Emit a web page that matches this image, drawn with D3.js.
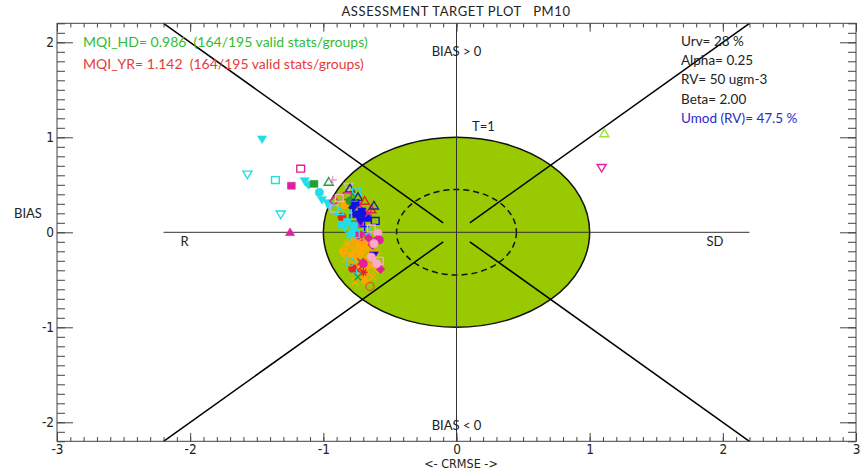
<!DOCTYPE html>
<html>
<head>
<meta charset="utf-8">
<script src="https://cdn.jsdelivr.net/npm/d3@7"></script>
<style>
  html, body { margin: 0; padding: 0; background: #fff; }
  svg { display: block; }
  .lbl { font-family: Lato, "Open Sans", sans-serif; fill: #222; white-space: pre; }
  .tick text { font-family: "Liberation Sans Narrow", "DejaVu Sans Condensed", sans-serif; font-size: 13.5px; fill: #222; }
</style>
</head>
<body>
<svg id="chart" width="865" height="472"></svg>
<script>
// ---- data ---------------------------------------------------------------
const titleText = "ASSESSMENT TARGET PLOT   PM10";
const xTickValues = [-3, -2, -1, 0, 1, 2, 3];
const yTickValues = [-2, -1, 0, 1, 2];
const mqiLines = [
  "MQI_HD= 0.986  (164/195 valid stats/groups)",
  "MQI_YR= 1.142  (164/195 valid stats/groups)"
];
const infoLines = ["Urv= 28 %", "Alpha= 0.25", "RV= 50 ugm-3", "Beta= 2.00", "Umod (RV)= 47.5 %"];
const targetRadius = 1;      // T=1 circle
const innerRadius = 0.45;    // dashed circle
// stations: [CRMSE, BIAS, marker group]
const stations = [
  [-1.46, 0.98, 0], [-1.57, 0.61, 1], [-1.36, 0.55, 2], [-1.17, 0.67, 3], [-1.24, 0.49, 4],
  [-1.14, 0.54, 0], [-1.11, 0.50, 5], [-1.07, 0.51, 6], [-1.03, 0.42, 7], [-1.01, 0.34, 0],
  [-1.32, 0.19, 1], [-1.25, 0.00, 8], [-0.96, 0.53, 9], [-0.93, 0.55, 10], [-0.81, 0.48, 11],
  [-0.80, 0.46, 12], [1.11, 1.04, 13], [1.09, 0.68, 14], [-0.95, 0.29, 7], [-0.97, 0.31, 0],
  [-0.75, 0.43, 2], [-0.92, 0.33, 15], [-0.92, 0.25, 16], [-0.84, 0.29, 17], [-0.80, 0.33, 18],
  [-0.74, 0.37, 12], [-0.69, 0.33, 21], [-0.73, 0.29, 20], [-0.64, 0.24, 21], [-0.71, 0.22, 19],
  [-0.86, 0.16, 22], [-0.77, 0.15, 23], [-0.67, 0.15, 19], [-0.61, 0.12, 23], [-0.82, 0.11, 37],
  [-0.73, 0.09, 36], [-0.84, 0.05, 0], [-0.67, 0.01, 2], [-0.73, -0.03, 36], [-0.59, -0.01, 30],
  [-0.60, -0.08, 31], [-0.78, 0.26, 24], [-0.76, 0.31, 19], [-0.70, 0.18, 24], [-0.72, 0.12, 25],
  [-0.79, 0.20, 33], [-0.81, 0.03, 32], [-0.77, 0.07, 7], [-0.69, 0.06, 40], [-0.75, 0.19, 19],
  [-0.88, 0.22, 41], [-0.86, 0.08, 37], [-0.64, 0.04, 38], [-0.79, -0.02, 7], [-0.70, -0.05, 42],
  [-0.66, 0.20, 20], [-0.62, 0.28, 12], [-0.82, 0.38, 3], [-0.88, 0.36, 38], [-0.78, 0.36, 9],
  [-0.78, -0.08, 27], [-0.74, -0.10, 26], [-0.70, -0.12, 27], [-0.66, -0.10, 28], [-0.80, -0.16, 26],
  [-0.76, -0.18, 27], [-0.72, -0.20, 39], [-0.68, -0.17, 27], [-0.64, -0.19, 26], [-0.79, -0.24, 28],
  [-0.75, -0.27, 27], [-0.71, -0.25, 26], [-0.67, -0.28, 27], [-0.63, -0.30, 44], [-0.77, -0.33, 26],
  [-0.73, -0.36, 27], [-0.69, -0.38, 28], [-0.65, -0.35, 27], [-0.61, -0.40, 26], [-0.75, -0.42, 27],
  [-0.71, -0.45, 26], [-0.67, -0.44, 27], [-0.63, -0.47, 26], [-0.76, -0.52, 26], [-0.69, -0.51, 27],
  [-0.82, -0.12, 27], [-0.83, -0.28, 26], [-0.60, -0.22, 27], [-0.85, -0.20, 17], [-0.73, -0.14, 17],
  [-0.74, -0.40, 29], [-0.70, -0.42, 43], [-0.72, -0.31, 29], [-0.78, -0.38, 22], [-0.62, -0.24, 25],
  [-0.80, -0.31, 32], [-0.70, -0.33, 36], [-0.75, -0.43, 33], [-0.74, -0.47, 34], [-0.65, -0.57, 35],
  [-0.57, -0.39, 31], [-0.60, -0.33, 30], [-0.63, -0.13, 15], [-0.58, -0.08, 36], [-0.62, -0.12, 30],
  [-0.64, -0.26, 30], [-0.66, -0.06, 31], [-0.58, -0.30, 38], [-0.80, -0.05, 33], [-0.76, -0.02, 2]
];

// ---- marker styles per group -----------------------------------------------
const C = {
  cyan: "#22dde8", magenta: "#e0209c", green: "#22a030", lav: "#ccb4d4", navy: "#26268e",
  lgreen: "#9be830", orange: "#ffa800", blue: "#1212e0", red: "#ea2222", pink: "#ffa8cc",
  pinkplus: "#e8a0d8"
};
const markerStyles = [
  ["td", C.cyan, true], ["td", C.cyan, false], ["sq", C.cyan, false], ["sq", C.magenta, false],
  ["sq", C.magenta, true], ["di", C.cyan, true], ["sq", C.green, true], ["ci", C.cyan, true],
  ["tu", C.magenta, true], ["tu", C.green, false], ["pl", C.pinkplus, false], ["td", C.lav, false],
  ["tu", C.navy, false], ["tu", C.lgreen, false], ["td", C.magenta, false], ["di", C.magenta, false],
  ["sq", C.lav, false], ["ci", C.orange, true], ["ci", C.green, true], ["sq", C.blue, true],
  ["x", C.magenta, false], ["tu", C.red, false], ["ci", C.red, true], ["sq", C.blue, false],
  ["di", C.blue, true], ["td", C.blue, true], ["x", C.orange, false], ["as", C.orange, false],
  ["sq", C.orange, true], ["x", C.red, false], ["ci", C.pink, true], ["di", C.magenta, true],
  ["ci", C.cyan, false], ["pl", C.cyan, false], ["x", C.green, false], ["ci", "#e05a20", false],
  ["ci", C.magenta, true], ["sq", C.cyan, true], ["sq", C.pink, false], ["tu", C.orange, true],
  ["pl", C.blue, false], ["tu", C.cyan, false], ["tu", C.magenta, false], ["as", C.red, false],
  ["pl", C.orange, false]
];

function markerPath(kind, r) {
  const p = d3.path();
  switch (kind) {
    case "tu": p.moveTo(0, -r); p.lineTo(r * 1.05, r * 0.75); p.lineTo(-r * 1.05, r * 0.75); p.closePath(); break;
    case "td": p.moveTo(0, r); p.lineTo(r * 1.05, -r * 0.75); p.lineTo(-r * 1.05, -r * 0.75); p.closePath(); break;
    case "sq": p.rect(-r * 0.9, -r * 0.8, r * 1.8, r * 1.6); break;
    case "ci": p.arc(0, 0, r * 0.95, 0, 2 * Math.PI); p.closePath(); break;
    case "di": p.moveTo(0, -r); p.lineTo(r, 0); p.lineTo(0, r); p.lineTo(-r, 0); p.closePath(); break;
    case "pl": p.moveTo(-r, 0); p.lineTo(r, 0); p.moveTo(0, -r); p.lineTo(0, r); break;
    case "x": p.moveTo(-r * 0.8, -r * 0.8); p.lineTo(r * 0.8, r * 0.8); p.moveTo(r * 0.8, -r * 0.8); p.lineTo(-r * 0.8, r * 0.8); break;
    case "as":
      p.moveTo(-r, 0); p.lineTo(r, 0); p.moveTo(0, -r); p.lineTo(0, r);
      p.moveTo(-r * 0.7, -r * 0.7); p.lineTo(r * 0.7, r * 0.7); p.moveTo(r * 0.7, -r * 0.7); p.lineTo(-r * 0.7, r * 0.7);
      break;
  }
  return p.toString();
}

// ---- layout ----------------------------------------------------------------
const svg = d3.select("#chart");
const x = d3.scaleLinear().domain([-3, 3]).range([57, 856]);
const y = d3.scaleLinear().domain([-2.2, 2.2]).range([441.3, 23.3]);
const W = x.range()[1] - x.range()[0];
const H = y.range()[0] - y.range()[1];

// target circle (radius 1 in data units)
svg.append("ellipse")
  .attr("cx", x(0)).attr("cy", y(0))
  .attr("rx", x(targetRadius) - x(0)).attr("ry", y(0) - y(targetRadius))
  .attr("fill", "#99c900").attr("stroke", "#111").attr("stroke-width", 1.5);

svg.append("ellipse")
  .attr("cx", x(0)).attr("cy", y(0))
  .attr("rx", x(innerRadius) - x(0)).attr("ry", y(0) - y(innerRadius))
  .attr("fill", "none").attr("stroke", "#111").attr("stroke-width", 1.5)
  .attr("stroke-dasharray", "6,4");

// reference axes through the origin
svg.append("line").attr("x1", x(-2.2)).attr("x2", x(2.2)).attr("y1", y(0)).attr("y2", y(0))
  .attr("stroke", "#333").attr("stroke-width", 1);
svg.append("line").attr("x1", x(0)).attr("x2", x(0)).attr("y1", y(2.2)).attr("y2", y(-2.2))
  .attr("stroke", "#333").attr("stroke-width", 1);

// diagonals |BIAS| = |CRMSE|
[[-1, 1], [1, 1], [-1, -1], [1, -1]].forEach(([sx, sy]) => {
  svg.append("line")
    .attr("x1", x(sx * 0.1)).attr("y1", y(sy * 0.1))
    .attr("x2", x(sx * 2.2)).attr("y2", y(sy * 2.2))
    .attr("stroke", "#000").attr("stroke-width", 1.5);
});

// axes: inward ticks on all four sides
const minorVals = (lo, hi) => d3.range(Math.round(lo * 10), Math.round(hi * 10) + 1).map(i => i / 10);
const xMinor = minorVals(-3, 3), yMinor = minorVals(-2.2, 2.2);
const xMaj = H * 0.02, yMaj = W * 0.02;

function drawAxis(axisFn, scale, tr, vals, size, labels) {
  const g = svg.append("g").attr("transform", tr)
    .call(axisFn(scale).tickValues(vals).tickSize(-size).tickPadding(3)
      .tickFormat(labels ? (d => String(d)) : ""));
  g.select(".domain").remove();
  g.selectAll(".tick line").attr("stroke", "#444").attr("stroke-width", 1);
  return g;
}
drawAxis(d3.axisBottom, x, `translate(0,${y.range()[0]})`, xMinor, xMaj / 2, false);
drawAxis(d3.axisBottom, x, `translate(0,${y.range()[0]})`, xTickValues, xMaj, true);
drawAxis(d3.axisTop, x, `translate(0,${y.range()[1]})`, xMinor, xMaj / 2, false);
drawAxis(d3.axisTop, x, `translate(0,${y.range()[1]})`, xTickValues, xMaj, false);
drawAxis(d3.axisLeft, y, `translate(${x.range()[0]},0)`, yMinor, yMaj / 2, false);
drawAxis(d3.axisLeft, y, `translate(${x.range()[0]},0)`, yTickValues, yMaj, true);
drawAxis(d3.axisRight, y, `translate(${x.range()[1]},0)`, yMinor, yMaj / 2, false);
drawAxis(d3.axisRight, y, `translate(${x.range()[1]},0)`, yTickValues, yMaj, false);

svg.append("rect")
  .attr("x", x.range()[0]).attr("y", y.range()[1]).attr("width", W).attr("height", H)
  .attr("fill", "none").attr("stroke", "#444").attr("stroke-width", 1);

// station markers
svg.append("g").selectAll("path").data(stations).join("path")
  .attr("transform", d => `translate(${x(d[0])},${y(d[1])})`)
  .attr("d", d => markerPath(markerStyles[d[2]][0], 4.3))
  .attr("fill", d => markerStyles[d[2]][2] ? markerStyles[d[2]][1] : "none")
  .attr("stroke", d => markerStyles[d[2]][1])
  .attr("stroke-width", d => markerStyles[d[2]][2] ? 0.6 : 1.4);

// ---- text ----------------------------------------------------------------
const txt = (xx, yy, s, size, anchor, color, fam) => svg.append("text")
  .attr("class", "lbl").attr("x", xx).attr("y", yy).attr("text-anchor", anchor || "start")
  .style("font-size", size + "px").style("fill", color || "#222")
  .style("font-family", fam || null).text(s);

txt(456, 16, titleText, 13, "middle").style("letter-spacing", "0.6px");
txt(83, 47, mqiLines[0], 14, "start", "#33bb33");
txt(83, 69, mqiLines[1], 14, "start", "#e83a3a");
infoLines.forEach((s, i) => txt(681, 46 + i * 19.2, s, 13.5, "start", i === 4 ? "#2a2ac8" : "#222"));
txt(x(0), 56, "BIAS > 0", 13, "middle");
txt(x(0), 430, "BIAS < 0", 13, "middle");
txt(472, 131, "T=1", 13, "start");
txt(184.5, 246, "R", 13, "middle");
txt(715, 246, "SD", 13, "middle");
txt(14, 218, "BIAS", 13, "start");
txt(461, 468, "<- CRMSE ->", 12.5, "middle", "#222", "'Liberation Sans Narrow','DejaVu Sans Condensed',sans-serif");
</script>
</body>
</html>
